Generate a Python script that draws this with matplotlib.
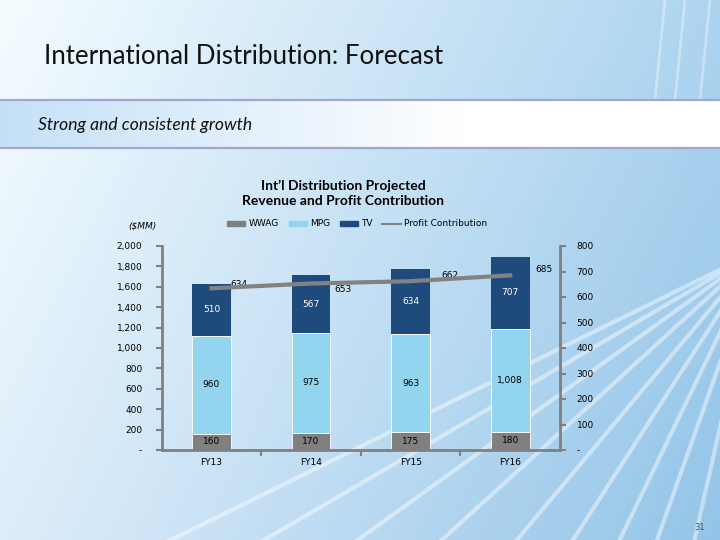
import numpy as np
import matplotlib
matplotlib.use("Agg")
import matplotlib.pyplot as plt
from matplotlib.patches import Patch
from matplotlib.lines import Line2D

# data ($MM)
years = ["FY13", "FY14", "FY15", "FY16"]
wwag = [160, 170, 175, 180]
mpg = [960, 975, 963, 1008]
tv = [510, 567, 634, 707]
profit = [634, 653, 662, 685]
profit_offsets = [(20, 3), (23, -4), (28, 4), (24, 4)]  # label offsets in points

c_wwag = "#808080"
c_mpg = "#93d4ef"
c_tv = "#1f4a7c"
c_line = "#828282"

fig = plt.figure(figsize=(7.2, 5.4), dpi=100)

# slide background
bg = fig.add_axes([0, 0, 1, 1])
bg.set_xlim(0, 720)
bg.set_ylim(540, 0)
bg.axis("off")
tl = np.array([0.96, 0.99, 1.0])
tr = np.array([0.68, 0.83, 0.94])
bl = np.array([0.87, 0.93, 0.98])
br = np.array([0.58, 0.77, 0.91])
gx = np.linspace(0, 1, 200)[None, :, None]
gy = np.linspace(0, 1, 150)[:, None, None]
grad = (tl * (1 - gx) * (1 - gy) + tr * gx * (1 - gy) + bl * (1 - gx) * gy + br * gx * gy)
bg.imshow(grad, extent=[0, 720, 540, 0], aspect="auto", zorder=0)

# light rays
for ex in [130, 230, 330, 420, 500, 560, 610, 650, 690]:
    bg.plot([760, ex], [250, 560], color="white", alpha=0.45, lw=3, zorder=1)
for ex in [655, 675, 700]:
    bg.plot([ex + 10, ex], [0, 100], color="white", alpha=0.35, lw=2, zorder=1)

# subtitle band
band = np.clip(np.linspace(0, 1, 200) / 0.65, 0, 1)
band_col = np.array([0.77, 0.88, 0.97])[None, :] * (1 - band)[:, None] + band[:, None]
bg.imshow(band_col[None, :, :], extent=[0, 720, 148, 100], aspect="auto", zorder=2)
bg.plot([0, 720], [99.5, 99.5], color="#a4a6cf", lw=1.6, zorder=3)
bg.plot([0, 720], [148, 148], color="#a4a6cf", lw=1.6, zorder=3)

fig.text(44 / 720, 1 - 57 / 540, "International Distribution: Forecast",
         fontsize=18.6, family="Lato", va="center", ha="left", color="#111111")
fig.text(38 / 720, 1 - 125 / 540, "Strong and consistent growth",
         fontsize=12.6, family="Lato", style="italic", va="center", ha="left", color="#111111")
fig.text(343 / 720, 1 - 193 / 540, "Int\u2019l Distribution Projected\nRevenue and Profit Contribution",
         fontsize=10, family="Lato", weight="bold", ha="center", va="center", linespacing=1.3)
fig.text(128 / 720, 1 - 226 / 540, "($MM)", fontsize=6.5, style="italic", va="center")
fig.text(700 / 720, 1 - 527 / 540, "31", fontsize=6, color="#555555", ha="center", va="center")

# chart
ax = fig.add_axes([161.7 / 720, 1 - 450 / 540, 398.3 / 720, 204 / 540])
ax.patch.set_alpha(0)
x = np.arange(len(years))
w = 0.39
b1 = np.array(wwag)
b2 = b1 + np.array(mpg)
ax.bar(x, wwag, w, color=c_wwag, edgecolor="white", linewidth=0.6, zorder=2)
ax.bar(x, mpg, w, bottom=b1, color=c_mpg, edgecolor="white", linewidth=0.6, zorder=2)
ax.bar(x, tv, w, bottom=b2, color=c_tv, linewidth=0, zorder=2)

for i in range(len(years)):
    ax.text(x[i], wwag[i] / 2, f"{wwag[i]:,}", ha="center", va="center", fontsize=6.5, color="black", zorder=4)
    ax.text(x[i], b1[i] + mpg[i] / 2, f"{mpg[i]:,}", ha="center", va="center", fontsize=6.5, color="black", zorder=4)
    ax.text(x[i], b2[i] + tv[i] / 2, f"{tv[i]:,}", ha="center", va="center", fontsize=6.5, color="white", zorder=4)

ax.set_xlim(-0.5, 3.5)
ax.set_ylim(0, 2000)
ax.set_yticks(np.arange(0, 2001, 200))
ax.set_yticklabels(["-"] + [f"{v:,}" for v in range(200, 2001, 200)])
ax.set_xticks(x)
ax.set_xticklabels(years)
ax.set_xticks([0.5, 1.5, 2.5], minor=True)
ax.tick_params(axis="x", which="major", length=0, labelsize=6.5, pad=6)
ax.tick_params(axis="x", which="minor", length=4, width=1.5, color="#808080", direction="out")
ax.tick_params(axis="y", length=4, width=1.5, color="#808080", labelsize=6.5, pad=10)
for s in ["top", "right"]:
    ax.spines[s].set_visible(False)
for s in ["left", "bottom"]:
    ax.spines[s].set_color("#808080")
    ax.spines[s].set_linewidth(2)

ax2 = ax.twinx()
ax2.set_ylim(0, 800)
ax2.plot(x, profit, color=c_line, lw=3, zorder=5)
for i in range(len(years)):
    ax2.annotate(f"{profit[i]:,}", (x[i], profit[i]), xytext=profit_offsets[i],
                 textcoords="offset points", ha="center", va="center", fontsize=6.5)
ax2.set_yticks(np.arange(0, 801, 100))
ax2.set_yticklabels(["-"] + [str(v) for v in range(100, 801, 100)])
ax2.tick_params(axis="y", length=4, width=1.5, color="#808080", labelsize=6.5, pad=8)
for s in ["top", "left", "bottom"]:
    ax2.spines[s].set_visible(False)
ax2.spines["right"].set_color("#808080")
ax2.spines["right"].set_linewidth(2)

handles = [Patch(color=c_wwag), Patch(color=c_mpg), Patch(color=c_tv),
           Line2D([0], [0], color=c_line, lw=1.5)]
fig.legend(handles, ["WWAG", "MPG", "TV", "Profit Contribution"], loc="center",
           bbox_to_anchor=(357 / 720, 1 - 224 / 540), ncol=4, frameon=False,
           fontsize=6.5, handleheight=0.4, handlelength=2.0, columnspacing=1.1, handletextpad=0.35)

fig.savefig("out.png", dpi=100)
